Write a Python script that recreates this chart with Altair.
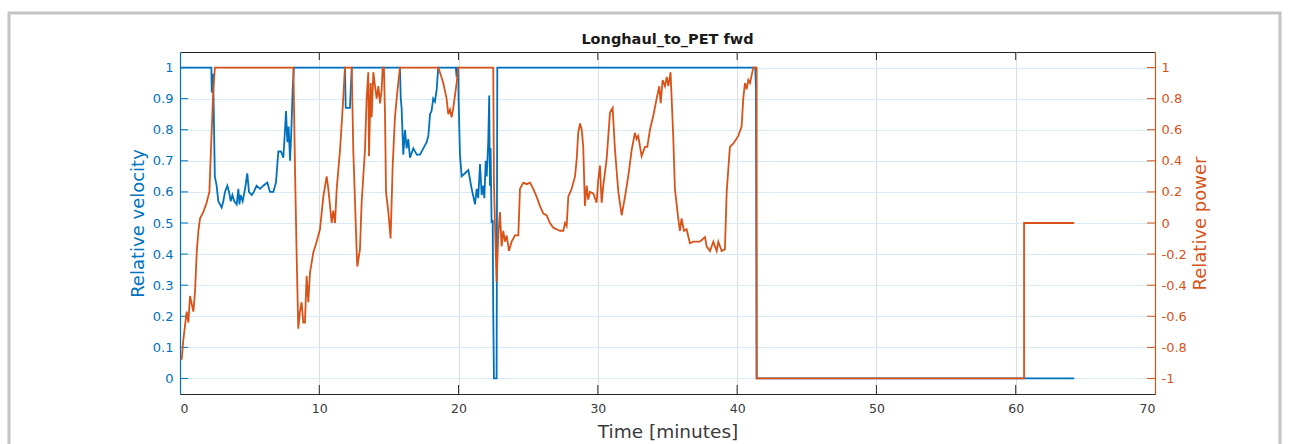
import altair as alt
import pandas as pd

# ---- data ----
vel_t = [0, 2.25, 2.28, 2.38, 2.5, 2.63, 2.75, 2.87, 2.99, 3.11, 3.23, 3.4, 3.52, 3.64, 3.76, 3.9,
         4.07, 4.19, 4.27, 4.35, 4.5, 4.67, 4.83, 4.95, 5.15, 5.3, 5.5, 5.75, 5.98, 6.27, 6.46, 6.7,
         6.89, 7.06, 7.25, 7.42, 7.54, 7.61, 7.71, 7.8, 7.9, 7.98, 8.09, 8.18,
         11.84, 11.9, 12.2, 12.33,
         15.79, 15.85, 15.91, 16.03, 16.15, 16.27, 16.39, 16.51, 16.75, 17.0, 17.23, 17.47, 17.71,
         17.83, 17.95, 18.06, 18.18, 18.3, 18.43, 18.54,
         19.8, 19.86, 19.92, 19.98, 20.0, 20.1, 20.22, 20.46, 20.7, 20.94, 21.18, 21.3, 21.41, 21.54,
         21.66, 21.77, 21.85, 21.95, 22.02, 22.13, 22.2, 22.25, 22.3, 22.37, 22.45, 22.49, 22.54,
         22.73, 22.78,
         41.3, 41.35, 41.4, 64.2]
vel_v = [1, 1, 0.92, 0.98, 0.65, 0.62, 0.57, 0.56, 0.55, 0.57, 0.6, 0.62, 0.6, 0.57, 0.59, 0.57,
         0.56, 0.61, 0.56, 0.59, 0.57, 0.61, 0.66, 0.6, 0.59, 0.6, 0.62, 0.61, 0.62, 0.63, 0.6, 0.6,
         0.63, 0.73, 0.73, 0.71, 0.8, 0.86, 0.76, 0.81, 0.7, 0.78, 0.93, 1.0,
         1.0, 0.87, 0.87, 1.0,
         1.0, 0.9, 0.87, 0.72, 0.8, 0.74, 0.77, 0.71, 0.74, 0.72, 0.72, 0.74, 0.76,
         0.78, 0.85, 0.86, 0.9, 0.89, 0.93, 1.0,
         1.0, 0.97, 1.0, 1.0, 0.9, 0.72, 0.65, 0.66, 0.67, 0.61, 0.56, 0.61, 0.58, 0.69,
         0.59, 0.62, 0.58, 0.7, 0.65, 0.76, 0.91, 0.62, 0.74, 0.5, 0.51, 0.21, 0.0,
         0.0, 1.0,
         1.0, 0.93, 0.0, 0.0]

pow_t = [0.12, 0.24, 0.36, 0.48, 0.6, 0.72, 0.84, 0.96, 1.08, 1.2, 1.32, 1.44, 1.67, 1.91, 2.11,
         2.15, 2.27, 2.39, 2.51, 8.14, 8.26, 8.38, 8.49, 8.61, 8.73, 8.85, 8.97, 9.09, 9.21, 9.33,
         9.57, 9.81, 10.05, 10.29, 10.53, 10.65, 10.77, 10.89, 11.0, 11.13, 11.25, 11.49, 11.72,
         11.84, 12.33, 12.44, 12.68, 12.73, 12.92, 13.04, 13.28, 13.4, 13.52, 13.57, 13.69, 13.76,
         13.88, 14.0, 14.12, 14.24, 14.36, 14.48, 14.55, 14.64, 14.72, 14.79, 14.96, 15.12, 15.27,
         15.43, 15.6, 15.79, 18.54, 18.66, 18.9, 19.14, 19.26, 19.38, 19.5, 19.62, 19.74, 19.86,
         19.98, 22.49, 22.54, 22.61, 22.73, 22.85, 22.97, 23.09, 23.21, 23.33, 23.45, 23.62, 23.81,
         24.05, 24.29, 24.41, 24.65, 24.89, 25.13, 25.36, 25.6, 25.84, 26.08, 26.32, 26.56, 26.8,
         27.04, 27.28, 27.52, 27.64, 27.76, 27.88, 28.12, 28.36, 28.48, 28.59, 28.72, 28.84, 28.95,
         29.07, 29.2, 29.31, 29.43, 29.67, 29.91, 30.03, 30.15, 30.27, 30.39, 30.63, 30.87, 31.06,
         31.23, 31.47, 31.71, 31.95, 32.18, 32.43, 32.66, 32.78, 32.9, 33.14, 33.38, 33.55, 33.74,
         33.98, 34.22, 34.41, 34.51, 34.65, 34.82, 34.94, 35.06, 35.22, 35.41, 35.53, 35.77, 35.89,
         36.01, 36.18, 36.37, 36.61, 36.85, 37.33, 37.69, 37.81, 38.05, 38.29, 38.53, 38.65, 38.89,
         39.12, 39.25, 39.48, 39.72, 40.08, 40.32, 40.44, 40.56, 40.68, 40.8, 40.92, 41.04, 41.16,
         41.4, 41.4, 60.6, 60.6, 64.2]
pow_p = [-0.88, -0.75, -0.66, -0.57, -0.64, -0.47, -0.52, -0.57, -0.44, -0.19, -0.05, 0.03, 0.07,
         0.13, 0.2, 0.3, 0.58, 0.86, 1.0, 1.0, 0.33, -0.23, -0.68, -0.57, -0.51, -0.64, -0.64, -0.34,
         -0.51, -0.32, -0.19, -0.12, -0.04, 0.17, 0.3, 0.22, 0.11, 0.0, 0.08, 0.0, 0.22, 0.47, 0.8,
         1.0, 1.0, 0.47, -0.17, -0.28, -0.17, 0.13, 0.47, 0.8, 0.97, 0.43, 0.9, 0.68,
         0.97, 0.88, 0.8, 0.88, 0.77, 0.86, 1.0, 1.0, 0.69, 0.2, 0.07, -0.10, 0.37,
         0.68, 0.84, 1.0, 1.0, 0.97, 0.9, 0.8, 0.7, 0.73, 0.68, 0.74, 0.82, 0.9,
         1.0, 1.0, 0.26, 0.0, -0.38, -0.08, 0.07, -0.15, -0.05, -0.12, -0.08, -0.18, -0.12,
         -0.08, -0.08, 0.22, 0.26, 0.25, 0.26, 0.22, 0.17, 0.11, 0.06, 0.05, 0.0, -0.03,
         -0.04, -0.05, -0.05, 0.0, -0.02, 0.17, 0.22, 0.3, 0.41, 0.58, 0.64, 0.6, 0.49,
         0.11, 0.24, 0.15, 0.2, 0.19, 0.13, 0.28, 0.37, 0.13, 0.24, 0.41, 0.71, 0.74,
         0.47, 0.2, 0.05, 0.17, 0.3, 0.47, 0.58, 0.54, 0.56, 0.43, 0.49, 0.49, 0.6,
         0.69, 0.8, 0.88, 0.77, 0.92, 0.88, 0.94, 0.88, 0.97, 0.56, 0.22, 0.03, -0.05,
         0.03, -0.05, -0.04, -0.13, -0.12, -0.12, -0.09, -0.15, -0.18, -0.12, -0.18, -0.12, -0.18,
         -0.17, 0.2, 0.49, 0.51, 0.56, 0.62, 0.8, 0.9, 0.86, 0.92, 0.9, 0.95, 1.0,
         1.0, -1.0, -1.0, 0.0, 0.0]

x_ticks = [0, 10, 20, 30, 40, 50, 60, 70]
vel_ticks = [0, 0.1, 0.2, 0.3, 0.4, 0.5, 0.6, 0.7, 0.8, 0.9, 1]
pow_ticks = [-1, -0.8, -0.6, -0.4, -0.2, 0, 0.2, 0.4, 0.6, 0.8, 1]

BLUE = "#0072BD"
ORANGE = "#D95319"
DARK = "#262626"
FONT = "DejaVu Sans"
W, H = 975, 342

vel_df = pd.DataFrame({"t": vel_t, "v": vel_v, "i": range(len(vel_t))})
pow_df = pd.DataFrame({"t": pow_t, "p": pow_p, "i": range(len(pow_t))})
vtick_df = pd.DataFrame({"v": vel_ticks})
xtick_df = pd.DataFrame({"t": x_ticks[1:-1]})

xscale = alt.Scale(domain=[0, 70], nice=False, zero=False)
xaxis = alt.Axis(values=x_ticks, format="d", title="Time [minutes]",
                 grid=True, gridColor="#dedede", gridWidth=1,
                 domainColor=DARK, domainWidth=1.2, ticks=False, tickSize=0,
                 labelColor="#3a3a3a", labelFontSize=12.5, labelPadding=8,
                 labelOverlap=False,
                 labelFont=FONT, titleFont=FONT, titleFontSize=18.5,
                 titleFontWeight="normal", titleColor="#3a3a3a",
                 titleBaseline="alphabetic", titleY=43)

vel_scale = alt.Scale(domain=[-0.05, 1.05], nice=False, zero=False)
pow_scale = alt.Scale(domain=[-1.1, 1.1], nice=False, zero=False)
vel_axis = alt.Axis(values=vel_ticks, format="~g", title="Relative velocity",
                    grid=True, gridColor="#d9eaf5", gridWidth=1,
                    domainColor=BLUE, domainWidth=1.2, ticks=False, tickSize=0,
                    labelColor=BLUE, labelFontSize=13, labelPadding=7, labelFont=FONT,
                    labelOverlap=False,
                    titleFont=FONT, titleFontSize=18, titleFontWeight="normal",
                    titleColor=BLUE, titleAngle=270, titleX=-42, titleY=H / 2,
                    titleAlign="center", titleBaseline="middle")
pow_axis = alt.Axis(orient="right", values=pow_ticks,
                    labelExpr="(datum.value < 0 ? '-' : '') + format(abs(datum.value), '~g')",
                    title="Relative power", grid=False, labelOverlap=False,
                    domainColor=ORANGE, domainWidth=1.2, ticks=False, tickSize=0,
                    labelColor=ORANGE, labelFontSize=13, labelPadding=6, labelFont=FONT,
                    titleFont=FONT, titleFontSize=18, titleFontWeight="normal",
                    titleColor=ORANGE, titleAngle=270, titleX=45, titleY=H / 2,
                    titleAlign="center", titleBaseline="middle")

vel_line = alt.Chart(vel_df).mark_line(color=BLUE, strokeWidth=1.8).encode(
    x=alt.X("t:Q", scale=xscale, axis=xaxis),
    y=alt.Y("v:Q", scale=vel_scale, axis=vel_axis),
    order="i:Q",
)

# inward tick marks (MATLAB style)
left_ticks = alt.Chart(vtick_df).mark_rule(color=BLUE, strokeWidth=1).encode(
    y=alt.Y("v:Q", scale=vel_scale, axis=vel_axis), x=alt.value(0), x2=alt.value(8))
right_ticks = alt.Chart(vtick_df).mark_rule(color=ORANGE, strokeWidth=1).encode(
    y=alt.Y("v:Q", scale=vel_scale, axis=vel_axis), x=alt.value(W - 8), x2=alt.value(W))
bottom_ticks = alt.Chart(xtick_df).mark_rule(color=DARK, strokeWidth=1).encode(
    x=alt.X("t:Q", scale=xscale, axis=xaxis), y=alt.value(H - 9), y2=alt.value(H))
top_ticks = alt.Chart(xtick_df).mark_rule(color=DARK, strokeWidth=1).encode(
    x=alt.X("t:Q", scale=xscale, axis=xaxis), y=alt.value(0), y2=alt.value(8))

# figure window frame (screenshot border)
frame = alt.Chart(pd.DataFrame({"a": [0]})).mark_rect(
    fillOpacity=0, stroke="#c4c4c4", strokeWidth=3, clip=False).encode(
    x=alt.value(-171), x2=alt.value(1100), y=alt.value(-39), y2=alt.value(H + 80))

left_layer = alt.layer(frame, vel_line, left_ticks, right_ticks, bottom_ticks, top_ticks)

pow_line = alt.Chart(pow_df).mark_line(color=ORANGE, strokeWidth=1.8).encode(
    x=alt.X("t:Q", scale=xscale, axis=xaxis),
    y=alt.Y("p:Q", scale=pow_scale, axis=pow_axis),
    order="i:Q",
)

chart = alt.layer(left_layer, pow_line).resolve_scale(y="independent").properties(
    width=W, height=H,
    title=alt.TitleParams("Longhaul_to_PET fwd", font=FONT, fontSize=14.5, fontWeight="bold",
                          color="#1a1a1a", anchor="middle", offset=0, dy=36),
    autosize=alt.AutoSizeParams(type="none"),
    padding={"left": 180, "top": 52, "right": 135, "bottom": 50},
    background="white",
).configure_view(stroke=DARK, strokeWidth=1)

chart.save("out.html", embed_options={"renderer": "svg", "actions": False})
